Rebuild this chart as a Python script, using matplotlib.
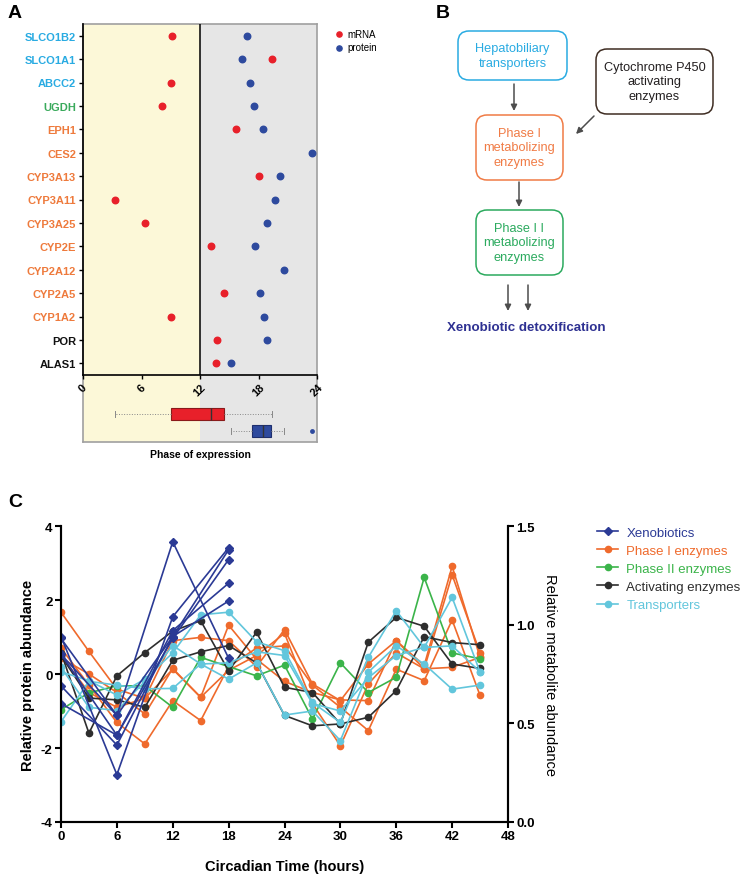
import numpy as np
import matplotlib.pyplot as plt
from matplotlib.patches import FancyBboxPatch

plt.rcParams['font.family'] = ['Liberation Sans', 'DejaVu Sans']
plt.rcParams['axes.unicode_minus'] = False

W, H = 744, 878

# ---------------- panel A data ----------------
genes = ["SLCO1B2", "SLCO1A1", "ABCC2", "UGDH", "EPH1", "CES2", "CYP3A13", "CYP3A11",
         "CYP3A25", "CYP2E", "CYP2A12", "CYP2A5", "CYP1A2", "POR", "ALAS1"]
gene_colors = ["#29ABE2"] * 3 + ["#3AAA5C"] + ["#EE7A3C"] * 9 + ["#111111"] * 2
mrna_phase = [9.16, 19.4, 9.06, 8.1, 15.7, np.nan, 18.05, 3.25,
              6.4, 13.1, np.nan, 14.5, 9.0, 13.7, 13.6]
protein_phase = [16.8, 16.3, 17.1, 17.5, 18.5, 23.5, 20.2, 19.7,
                 18.9, 17.6, 20.65, 18.2, 18.6, 18.9, 15.2]
phase_ticks = [0, 6, 12, 18, 24]

# ---------------- panel C data ----------------
hours = [0, 3, 6, 9, 12, 15, 18, 21, 24, 27, 30, 33, 36, 39, 42, 45]
xeno_hours = [0, 6, 12, 18]
# metabolite abundance (right axis)
xenobiotics = [
    [0.93, 0.54, 1.42, 0.83],
    [0.94, 0.24, 1.04, 1.39],
    [0.69, 0.39, 0.94, 1.38],
    [0.60, 0.44, 0.93, 1.33],
    [0.85, 0.44, 0.97, 1.21],
    [0.85, 0.54, 0.94, 1.12],
]
phase1 = [
    [1.67, 0.61, -0.41, -0.66, 0.9, 0.99, 0.9, 0.2, 1.2, -0.27, -0.72, 0.27, 0.9, 0.23, 2.91, 0.45],
    [0.43, 0.0, -0.5, -1.08, 0.15, -0.63, 0.1, 0.5, 1.1, -0.8, -1.94, -0.27, 0.57, 0.14, 2.68, 0.57],
    [0.7, -0.3, -1.31, -1.89, -0.72, -1.26, 0.2, 0.7, 0.76, -0.3, -0.9, -1.53, 0.13, -0.18, 1.46, -0.58],
    [0.5, -0.5, -0.9, -0.66, 0.13, -0.63, 1.32, 0.4, -0.2, -0.5, -0.7, -0.72, 0.9, 0.14, 0.18, 0.45],
]
phase2 = [
    [-0.96, -0.51, -0.32, -0.32, -0.9, 0.45, 0.2, -0.05, 0.24, -1.22, 0.3, -0.5, -0.09, 2.61, 0.57, 0.41],
]
activating = [
    [0.58, -1.6, -0.05, 0.58, 1.16, 1.44, 0.08, 1.13, -0.36, -0.5, -1.35, 0.86, 1.53, 1.29, 0.27, 0.15],
    [0.5, -0.65, -0.7, -0.9, 0.37, 0.6, 0.77, 0.3, -1.12, -1.4, -1.35, -1.17, -0.45, 1.01, 0.85, 0.79],
]
transporters = [
    [0.06, -0.18, -0.57, -0.14, 0.57, 1.6, 1.67, 0.87, 0.63, -0.77, -1.31, 0.45, 1.71, 0.72, 2.07, 0.05],
    [0.18, -0.9, -0.99, -0.2, 0.77, 0.27, -0.14, 0.3, -1.11, -1.0, -1.8, 0.05, 0.76, 0.27, -0.41, -0.3],
    [-1.29, -0.2, -0.3, -0.4, -0.39, 0.27, 0.3, 0.6, 0.5, -0.8, -1.0, -0.1, 0.5, 0.72, 0.76, 0.06],
]
group_names = ["Xenobiotics", "Phase I enzymes", "Phase II enzymes", "Activating enzymes", "Transporters"]
group_colors = ["#2B3A95", "#EF6A2C", "#3BB44A", "#2E2E2E", "#62C6DC"]

fig = plt.figure(figsize=(W / 100, H / 100), dpi=100)


def fax(x0, y0, x1, y1):
    return fig.add_axes([x0 / W, 1 - y1 / H, (x1 - x0) / W, (y1 - y0) / H])


# ================= panel A =================
ax_bg = fax(83, 25, 317, 443)
ax_bg.set_xlim(0, 24)
ax_bg.axvspan(0, 12, color="#FCF8D8", lw=0)
ax_bg.axvspan(12, 24, color="#E6E6E6", lw=0)
ax_bg.set_xticks([])
ax_bg.set_yticks([])
for s in ax_bg.spines.values():
    s.set_color("#A0A0A0")
    s.set_linewidth(1.2)

ax_a = fax(83, 25, 317, 376)
ax_a.set_facecolor("none")
ypos = np.arange(len(genes))
ax_a.scatter(mrna_phase, ypos, s=22, color="#E8202A", label="mRNA", zorder=3)
ax_a.scatter(protein_phase, ypos, s=22, color="#2E4A9E", label="protein", zorder=3)
ax_a.axvline(12, color="black", lw=1.1)
ax_a.set_xlim(0, 24)
ax_a.set_ylim(len(genes) - 0.5, -0.5)
ax_a.set_yticks(ypos)
ax_a.set_yticklabels(genes, fontsize=8, fontweight="bold")
for lab, c in zip(ax_a.get_yticklabels(), gene_colors):
    lab.set_color(c)
ax_a.set_xticks(phase_ticks)
ax_a.set_xticklabels([str(t) for t in phase_ticks], rotation=45, fontsize=8, fontweight="bold")
ax_a.tick_params(length=3, width=1, pad=2)
ax_a.spines["top"].set_visible(False)
ax_a.spines["right"].set_visible(False)
for s in ["left", "bottom"]:
    ax_a.spines[s].set_linewidth(1.2)
ax_a.legend(loc="upper left", bbox_to_anchor=(330 / W, 1 - 26 / H), bbox_transform=fig.transFigure,
            frameon=False, fontsize=7, handletextpad=0.4, labelspacing=0.35, borderaxespad=0,
            handlelength=1.0, scatterpoints=1, markerscale=0.8)

ax_box = fax(83, 400, 317, 443)
ax_box.set_facecolor("none")
bp = ax_box.boxplot([protein_phase, [v for v in mrna_phase if not np.isnan(v)]],
                    positions=[1, 2], vert=False, widths=0.75, patch_artist=True,
                    medianprops=dict(color="#333333", lw=1),
                    whiskerprops=dict(color="#888888", lw=0.7, linestyle=":"),
                    capprops=dict(color="#888888", lw=0.7),
                    flierprops=dict(marker="o", markersize=3.5, markerfacecolor="#2E4A9E",
                                    markeredgecolor="none"))
bp["boxes"][0].set(facecolor="#2E4A9E", edgecolor="#1E2F6E", lw=0.8)
bp["boxes"][1].set(facecolor="#E8202A", edgecolor="#8A1A1A", lw=0.8)
ax_box.set_xlim(0, 24)
ax_box.set_ylim(0.35, 2.89)
ax_box.axis("off")

fig.text(200 / W, 1 - 455 / H, "Phase of expression", ha="center", va="center",
         fontsize=7.5, fontweight="bold")

# ================= panel B =================
ax_f = fig.add_axes([0, 0, 1, 1])
ax_f.set_xlim(0, W)
ax_f.set_ylim(H, 0)
ax_f.axis("off")
ax_f.patch.set_alpha(0)

boxes = [
    (458, 32, 567, 81, "#29ABE2", "#29ABE2", "Hepatobiliary\ntransporters"),
    (596, 50, 713, 115, "#3E2C22", "#231F20", "Cytochrome P450\nactivating\nenzymes"),
    (476, 116, 563, 181, "#F07B45", "#F07B45", "Phase I\nmetabolizing\nenzymes"),
    (476, 211, 563, 276, "#2BAA5E", "#2BAA5E", "Phase I I\nmetabolizing\nenzymes"),
]
for x0, y0, x1, y1, ec, tc, txt in boxes:
    ax_f.add_patch(FancyBboxPatch((x0, y0), x1 - x0, y1 - y0,
                                  boxstyle="round,pad=0,rounding_size=11",
                                  fc="white", ec=ec, lw=1.1))
    ax_f.text((x0 + x1) / 2, (y0 + y1) / 2, txt, ha="center", va="center",
              fontsize=9.2, color=tc, linespacing=1.3)

arrows = [((514, 85), (514, 112)), ((594, 117), (576, 135)), ((519, 183), (519, 208)),
          ((508, 286), (508, 312)), ((528, 286), (528, 312))]
for (xa, ya), (xb, yb) in arrows:
    ax_f.annotate("", xy=(xb, yb), xytext=(xa, ya),
                  arrowprops=dict(arrowstyle="-|>", color="#4D4D4D", lw=1.1,
                                  mutation_scale=9, shrinkA=0, shrinkB=0))
ax_f.text(526, 328, "Xenobiotic detoxification", ha="center", va="center",
          fontsize=9.6, fontweight="bold", color="#2E3192")

# panel letters
ax_f.text(8, 13, "A", fontsize=14, fontweight="bold", va="center")
ax_f.text(436, 13, "B", fontsize=14, fontweight="bold", va="center")
ax_f.text(8, 503, "C", fontsize=14, fontweight="bold", va="center")

# ================= panel C =================
ax_c = fax(61, 527, 508, 823)
ax_r = ax_c.twinx()
ax_c.set_facecolor("none")

handles = []
for group, color in [(phase1, group_colors[1]), (phase2, group_colors[2]),
                     (activating, group_colors[3]), (transporters, group_colors[4])]:
    for i, line in enumerate(group):
        h, = ax_c.plot(hours, line, "-o", color=color, lw=1.2, ms=4.5)
        if i == 0:
            handles.append(h)
for i, line in enumerate(xenobiotics):
    h, = ax_r.plot(xeno_hours, line, "-D", color=group_colors[0], lw=1.2, ms=4)
    if i == 0:
        handles.insert(0, h)

ax_c.set_xlim(0, 48)
ax_c.set_ylim(-4, 4)
ax_r.set_ylim(0, 1.5)
ax_c.set_xticks(range(0, 49, 6))
ax_c.set_yticks([-4, -2, 0, 2, 4])
ax_r.set_yticks([0, 0.5, 1.0, 1.5])
ax_r.set_yticklabels(["0.0", "0.5", "1.0", "1.5"])
for a in (ax_c, ax_r):
    a.spines["top"].set_visible(False)
    for s in ["left", "right", "bottom"]:
        a.spines[s].set_linewidth(1.5)
    a.tick_params(length=4, width=1.5, labelsize=9.5, pad=2)
    for lab in a.get_xticklabels() + a.get_yticklabels():
        lab.set_fontweight("bold")
ax_c.set_ylabel("Relative protein abundance", fontsize=10.5, fontweight="bold", labelpad=4)
ax_r.set_ylabel("Relative metabolite abundance", fontsize=10.5, rotation=270,
                labelpad=16)
ax_c.set_xlabel("Circadian Time (hours)", fontsize=10.5, fontweight="bold", labelpad=12)

leg = fig.legend(handles, group_names, loc="upper left",
                 bbox_to_anchor=(592 / W, 1 - 522 / H), frameon=False, fontsize=9.5,
                 handlelength=1.6, handletextpad=0.6, labelspacing=0.45, borderaxespad=0)
for t, c in zip(leg.get_texts(), group_colors):
    t.set_color(c)

fig.savefig("out.png", dpi=100)
